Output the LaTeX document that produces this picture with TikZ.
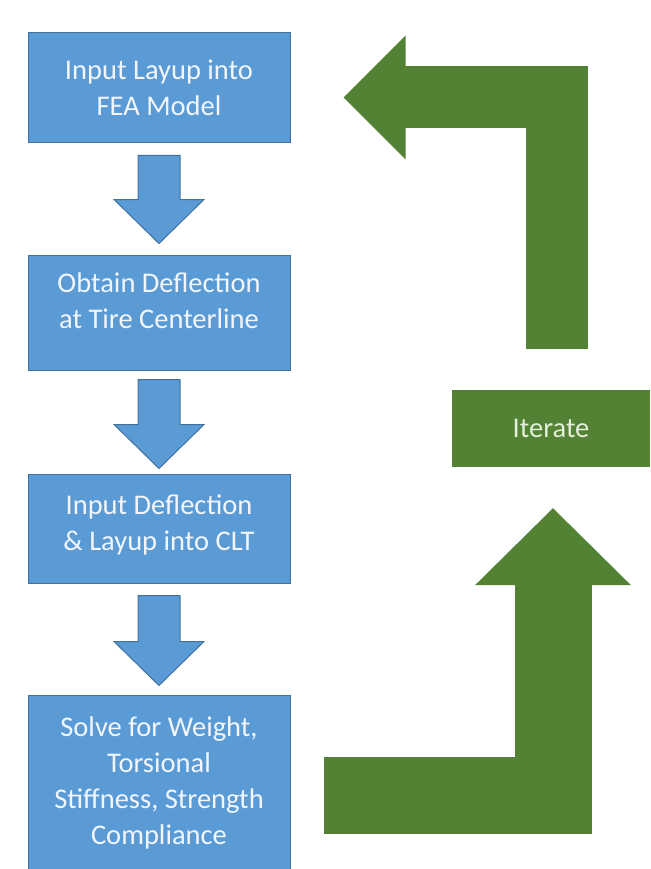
\documentclass[tikz,border=0pt]{standalone}
\usepackage{fontspec}
\setmainfont{Carlito}
\usetikzlibrary{positioning,calc}

\definecolor{boxblue}{HTML}{5B9BD5}
\definecolor{boxedge}{HTML}{41719C}
\definecolor{boxtext}{HTML}{F2F6FC}
\definecolor{loopgreen}{HTML}{548235}
\definecolor{looptext}{HTML}{E2F0D9}

% blue block arrow pointing down, from #1 (top) to #2 (tip)
\newcommand{\blockdown}[2]{%
  \filldraw[stepfill] ($(#1)+(-21,0)$) -- ($(#2)+(-21,44)$) -- ($(#2)+(-45,44)$) -- (#2)
    -- ($(#2)+(45,44)$) -- ($(#2)+(21,44)$) -- ($(#1)+(21,0)$) -- cycle;}

\begin{document}
\begin{tikzpicture}[x=1pt, y=1pt, node distance=111pt,
  stepbox/.style={rectangle, draw=boxedge, fill=boxblue, line width=1pt,
    text=boxtext, minimum width=262pt, align=center,
    font=\fontsize{28.5}{36}\selectfont},
  stepfill/.style={draw=boxedge, fill=boxblue, line width=1pt},
  loopbox/.style={rectangle, fill=loopgreen, text=looptext,
    minimum width=198pt, minimum height=77pt,
    font=\fontsize{28.5}{36}\selectfont},
  loopshaft/.style={draw=loopgreen, line join=miter}]
\useasboundingbox (0,0) rectangle (650,-869);

\node [stepbox, minimum height=110pt] (inp) at (159,-88) {Input Layup into\\FEA Model};
\node [stepbox, minimum height=115pt] (obt) [below = of inp] {Obtain Deflection\\at Tire Centerline\\[-12pt]};
\node [stepbox, minimum height=109pt] (clt) [below = 103pt of obt] {Input Deflection\\\& Layup into CLT\\[-24pt]};
\node [stepbox, minimum height=176pt] (solve) [below = of clt] {Solve for Weight,\\Torsional\\Stiffness, Strength\\Compliance};
\node [loopbox] (iter) at (551,-428.5) {Iterate};

% arrows between the steps
\coordinate (a1) at ($(inp.south)+(0,-12)$);
\coordinate (b1) at ($(obt.north)+(0,11)$);
\coordinate (a2) at ($(obt.south)+(0,-9)$);
\coordinate (b2) at ($(clt.north)+(0,5)$);
\coordinate (a3) at ($(clt.south)+(0,-12)$);
\coordinate (b3) at ($(solve.north)+(0,9)$);
\blockdown{a1}{b1}
\blockdown{a2}{b2}
\blockdown{a3}{b3}

% loop back: solve -> iterate
\coordinate (upfoot) at ($(solve.east)+(33,-12)$);
\coordinate (uptip) at ($(iter.south)+(2,-41)$);
\draw [loopshaft, line width=77pt] (upfoot) -| ($(uptip)+(0,-76)$);
\fill [loopgreen] ($(uptip)+(-78,-77)$) -- (uptip) -- ($(uptip)+(78,-77)$) -- cycle;

% loop back: iterate -> input
\coordinate (downfoot) at ($(iter.north)+(6,41)$);
\coordinate (backtip) at ($(inp.east)+(53,-9.5)$);
\draw [loopshaft, line width=62pt] (downfoot) |- ($(backtip)+(61,0)$);
\fill [loopgreen] ($(backtip)+(62,62)$) -- (backtip) -- ($(backtip)+(62,-62)$) -- cycle;
\end{tikzpicture}
\end{document}
